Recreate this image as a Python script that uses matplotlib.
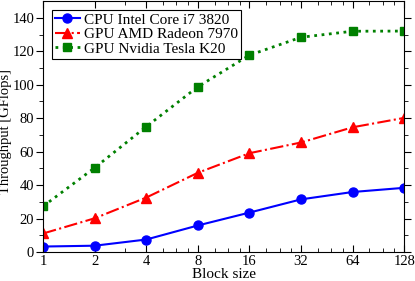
import matplotlib
matplotlib.use("Agg")
import matplotlib.pyplot as plt
from matplotlib.ticker import FixedLocator, NullFormatter

block_sizes = [1, 2, 4, 8, 16, 32, 64, 128]
cpu_intel = [3.3, 3.8, 7.5, 15.9, 23.6, 31.5, 35.9, 38.4]
gpu_amd = [11.1, 20.2, 32.6, 47.4, 59.1, 65.5, 74.6, 80.2]
gpu_nvidia = [27.4, 50.4, 75.0, 98.8, 117.7, 128.4, 132.0, 132.1]
minor_x = [3, 5, 6, 7, 10, 12, 14, 20, 24, 28, 40, 48, 56, 80, 96, 112]

plt.rcParams['font.family'] = ['Liberation Serif', 'DejaVu Serif']
plt.rcParams['font.size'] = 10

fig = plt.figure(figsize=(4.15, 2.81), dpi=100)
ax = fig.add_axes([0.104, 0.103, 0.870, 0.893])

ax.plot(block_sizes, cpu_intel, '-', color='blue', marker='o', markersize=6.5,
        linewidth=1.5, label='CPU Intel Core i7 3820')
ax.plot(block_sizes, gpu_amd, '-.', color='red', marker='^', markersize=6.5,
        linewidth=1.5, label='GPU AMD Radeon 7970')
ax.plot(block_sizes, gpu_nvidia, ':', color='green', marker='s', markersize=5.5,
        linewidth=2, label='GPU Nvidia Tesla K20')

ax.set_xscale('log', base=2)
ax.set_xlim(1, 128)
ax.set_ylim(0, 150)
ax.set_xticks(block_sizes)
ax.set_xticklabels([str(b) for b in block_sizes])
ax.xaxis.set_minor_locator(FixedLocator(minor_x))
ax.xaxis.set_minor_formatter(NullFormatter())
ax.set_yticks(range(0, 141, 20))
ax.yaxis.set_minor_locator(FixedLocator(range(10, 150, 20)))

ax.tick_params(which='both', direction='in', top=True, right=True)
ax.tick_params(axis='y', which='both', direction='out', right=False)
ax.tick_params(which='major', length=5)
ax.tick_params(which='minor', length=3)
ax.tick_params(labelsize=10.5, pad=2)
ax.tick_params(axis='y', which='both', right=True, pad=1.5)

ax.set_xlabel('Block size', fontsize=11, labelpad=0)
ax.set_ylabel('Throughput [GFlops]', fontsize=10.5)
ax.yaxis.set_label_coords(-0.086, 0.482)

leg = ax.legend(loc='upper left', bbox_to_anchor=(0.025, 0.965), fontsize=11,
                handlelength=1.6, handletextpad=0.3, borderpad=0.2,
                labelspacing=0.05, borderaxespad=0, fancybox=False,
                framealpha=1, edgecolor='black', markerscale=1.0)
leg.get_frame().set_linewidth(0.8)

fig.savefig('out.png', dpi=100)
